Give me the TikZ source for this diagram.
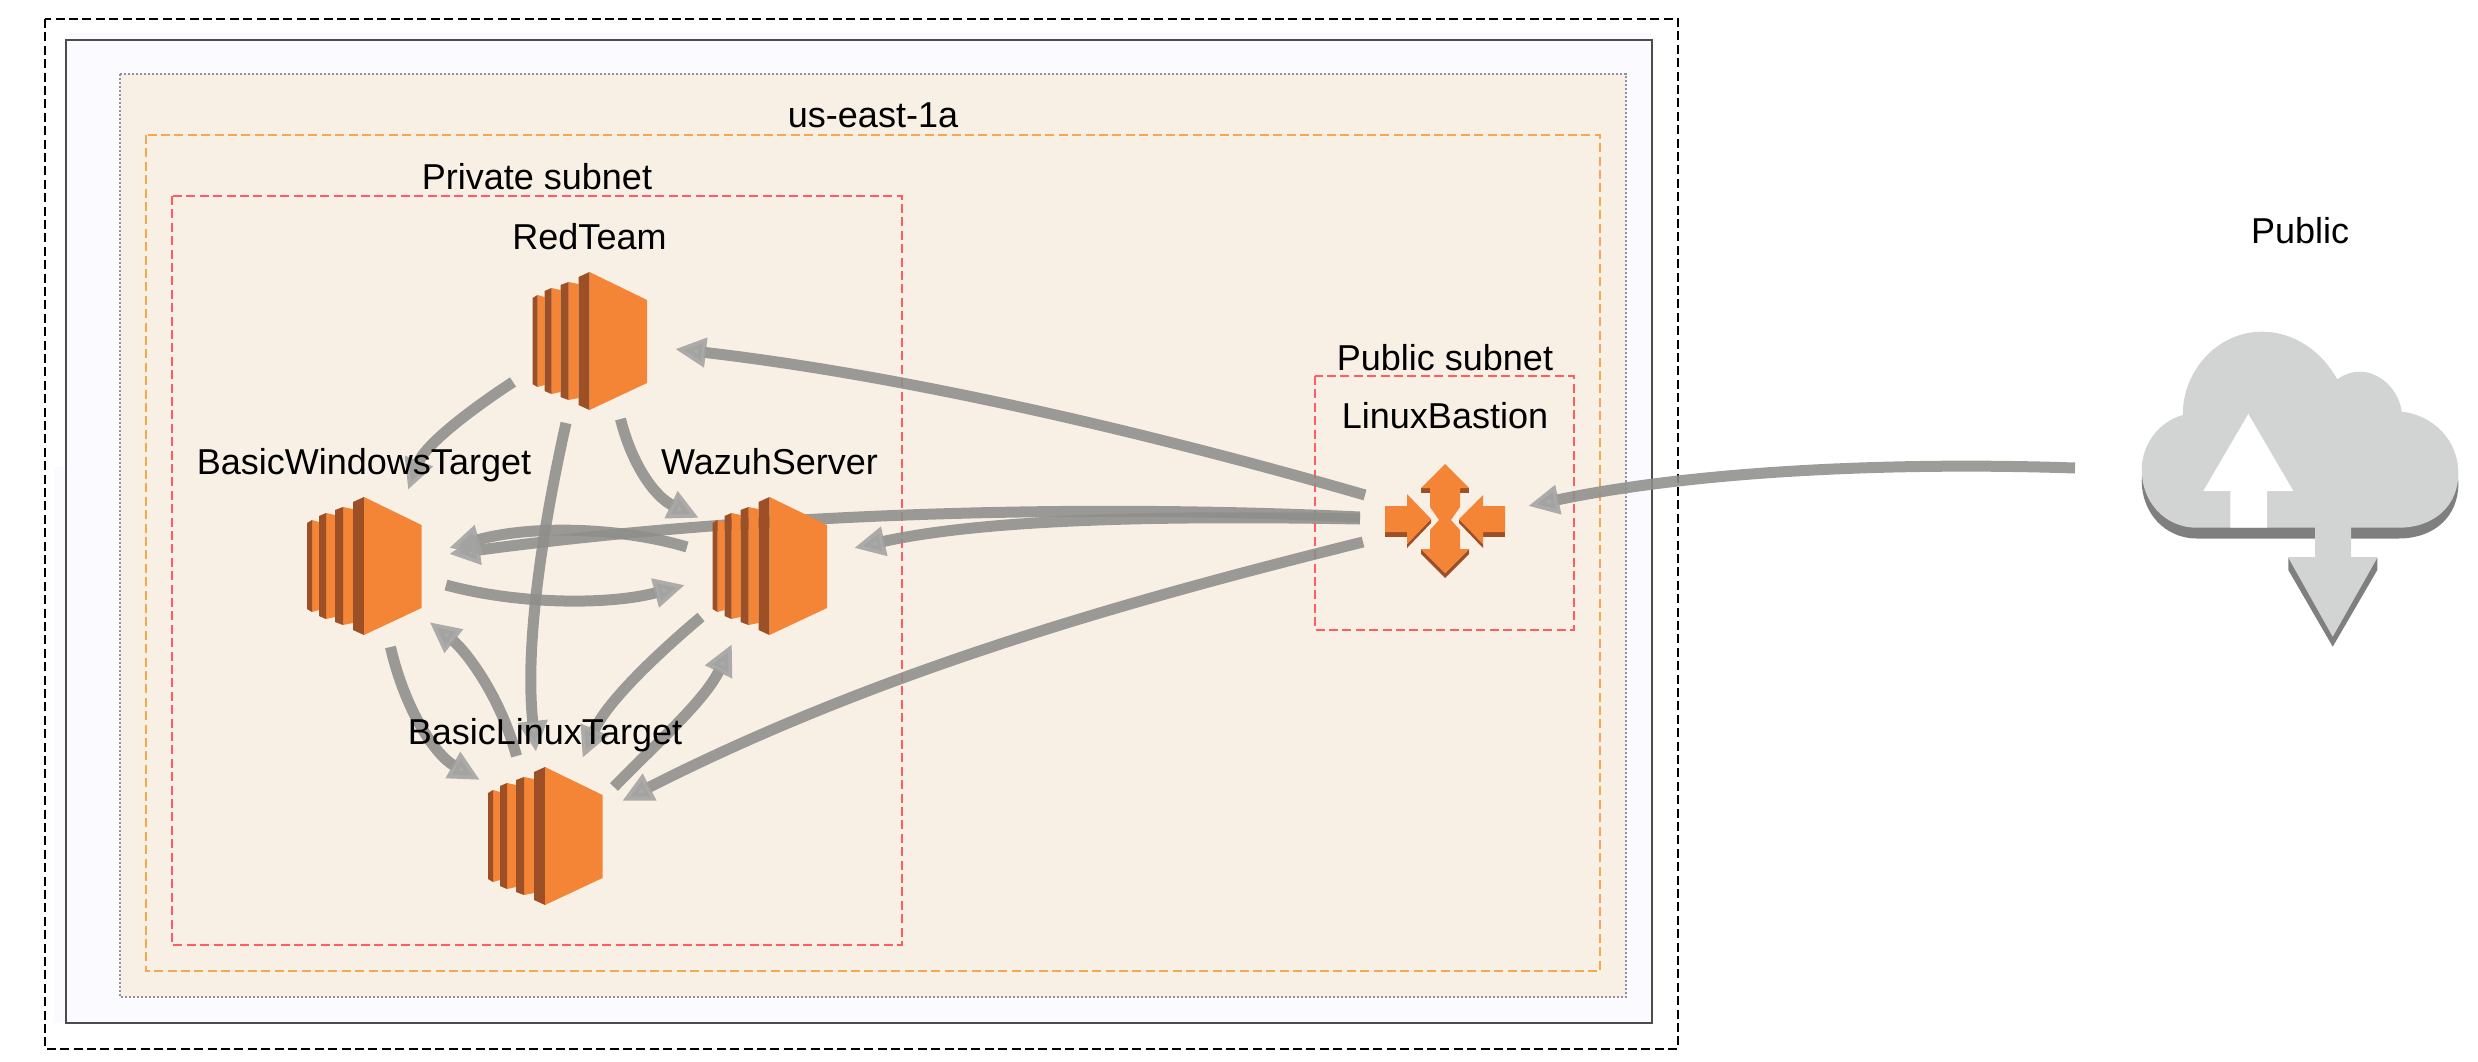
\documentclass[tikz,border=0pt]{standalone}
\usepackage{fontspec}
\setmainfont{Liberation Sans}
\usetikzlibrary{arrows.meta}
\definecolor{ec2orange}{HTML}{F58536}
\definecolor{ec2dark}{HTML}{9D5025}
\definecolor{linkgray}{HTML}{8E8E8B}
\definecolor{tipgray}{HTML}{A2A2A2}
\definecolor{cloudgray}{HTML}{D2D4D3}
\definecolor{cloudshade}{HTML}{7F7F7F}
\definecolor{panelblue}{HTML}{FAFAFF}
\definecolor{zonetan}{HTML}{F8F0E5}
\definecolor{zoneedge}{HTML}{8C92A5}
\definecolor{subnetorange}{HTML}{F5A94F}
\definecolor{subnetred}{HTML}{FF5C66}
\newcommand{\cloudoutline}{(-103.3,47.7) -- (98.3,47.7) .. controls (135,47.7) and (158.3,25) .. (158.3,-6.7) .. controls (158.3,-40) and (133,-65) .. (101.7,-68.3) .. controls (99,-90) and (80,-108.3) .. (60,-108.3) .. controls (51,-108.3) and (43,-105) .. (37.3,-100.7) .. controls (22,-128) and (-5,-148.3) .. (-38.3,-148.3) .. controls (-82,-148.3) and (-117.3,-110) .. (-117.3,-65) .. controls (-142,-58) and (-158.3,-35) .. (-158.3,-10) .. controls (-158.3,22) and (-135,47.7) .. (-103.3,47.7) -- cycle}
\begin{document}
\begin{tikzpicture}[x=0.5pt,y=-0.5pt,node distance=46pt]
        \tikzset{
            icon/.style = {rectangle, inner sep=0pt, minimum width=57pt, minimum height=69pt},
            lbl/.style = {anchor=base, font=\fontsize{18}{22}\selectfont},
            link/.style = {line width=5.5pt, draw=linkgray, opacity=0.88, -{Triangle[length=15.5pt,width=14pt,color=tipgray]}},
            outerbox/.style = {draw=black, line width=1pt, dash pattern=on 4.5pt off 2.2pt},
            panelbox/.style = {draw=black!70, line width=1.3pt},
            zonebox/.style = {draw=zoneedge, fill=zonetan, line width=0.8pt, dash pattern=on 0.8pt off 1.2pt},
            azbox/.style = {draw=subnetorange, line width=0.8pt, dash pattern=on 4.5pt off 2.2pt},
            subnetbox/.style = {draw=subnetred, line width=0.8pt, dash pattern=on 4.5pt off 2.2pt},
            ec2/.pic = {
                \foreach \xa/\xb/\xc/\ya in {-57/-52/-45/43,-45/-38/-29/50,-29/-21/-11/56} {
                    \fill [ec2orange] (\xb,-\ya-3) -- (\xc,-\ya-1) -- (\xc,\ya+1) -- (\xb,\ya+3) -- cycle;
                    \fill [ec2dark] (\xa,-\ya) -- (\xb,-\ya-3) -- (\xb,\ya+3) -- (\xa,\ya) -- cycle;
                }
                \fill [ec2dark] (-11,-64) -- (0,-69) -- (0,69) -- (-11,64) -- cycle;
                \fill [ec2orange] (0,-69) -- (57.5,-41) -- (57.5,42) -- (0,69) -- cycle;
            },
            gateway/.pic = {
                \fill [ec2dark] (-24,-32) -- (-24,-27) -- (-15,-27) -- (-15,-32) -- cycle;
                \fill [ec2dark] (24,-32) -- (24,-27) -- (15,-27) -- (15,-32) -- cycle;
                \fill [ec2dark] (-24,29) -- (0,53) -- (24,29) -- (24,34) -- (0,58) -- (-24,34) -- cycle;
                \fill [ec2dark] (-60,12) -- (-38,12) -- (-38,17) -- (-60,17) -- cycle;
                \fill [ec2dark] (-38,24) -- (-14,-1) -- (-14,3) -- (-38,28) -- cycle;
                \fill [ec2dark] (60,12) -- (38,12) -- (38,17) -- (60,17) -- cycle;
                \fill [ec2dark] (38,24) -- (14,-1) -- (14,3) -- (38,28) -- cycle;
                \fill [ec2orange] (0,-56) -- (24,-32) -- (15,-32) -- (15,-13) -- (6,0) -- (-6,0) -- (-15,-13) -- (-15,-32) -- (-24,-32) -- cycle;
                \fill [ec2orange] (0,53) -- (24,29) -- (15,29) -- (15,10) -- (6,0) -- (-6,0) -- (-15,10) -- (-15,29) -- (-24,29) -- cycle;
                \fill [ec2orange] (-14,-1) -- (-38,-26) -- (-38,-14) -- (-60,-14) -- (-60,12) -- (-38,12) -- (-38,24) -- cycle;
                \fill [ec2orange] (14,-1) -- (38,-25) -- (38,-14) -- (60,-14) -- (60,12) -- (38,12) -- (38,24) -- cycle;
            },
            igw/.pic = {
                \fill [cloudshade, yshift=-5.4pt] \cloudoutline;
                \fill [cloudshade] (-11.7,77.7) -- (-11.7,90) -- (32.7,166.7) -- (77.3,90) -- (77.3,77.7) -- cycle;
                \fill [cloudgray] \cloudoutline;
                \fill [white] (-51.7,-66) -- (-96.7,11) -- (-69.7,11) -- (-69.7,47.7) -- (-33,47.7) -- (-33,11) -- (-6.7,11) -- cycle;
                \fill [cloudgray] (15,47) -- (51,47) -- (51,77.7) -- (77.3,77.7) -- (32.7,156.7) -- (-11.7,77.7) -- (15,77.7) -- cycle;
            }
        }
        \useasboundingbox (0,0) rectangle (2478,1061);

        \draw [outerbox] (45,19) rectangle (1678,1049);
        \fill [panelblue] (66,33) -- (1651,33) -- (1651,1023) -- (54,1023) -- (54,467) -- (66,467) -- cycle;
        \draw [panelbox] (66,40) rectangle (1652,1023);
        \draw [zonebox] (120,74) rectangle (1626,997);
        \draw [azbox] (146,135) rectangle (1600,971);
        \draw [subnetbox] (172,196) rectangle (902,945);
        \draw [subnetbox] (1315,376) rectangle (1574,630);

        \node (redteam) [icon] at (589.5,341) {};
        \node (windows) [icon] at (364,566) {};
        \node (wazuh) [icon] at (769.5,566) {};
        \node (linux) [icon] at (545,836) {};
        \node (bastion) [icon] at (1445,520) {};
        \node (public) [icon, minimum width=160pt, minimum height=160pt] at (2300,480) {};

        \draw [link] ([shift={(-76.5,41)}]redteam.center) .. controls (470,410) and (425,445) .. ([shift={(44,-76)}]windows.center);
        \draw [link] ([shift={(-23.5,82)}]redteam.center) .. controls (540,540) and (525,650) .. ([shift={(-9,-84)}]linux.center);
        \draw [link] ([shift={(31,78)}]redteam.center) .. controls (632,465) and (655,497) .. ([shift={(-70.5,-48)}]wazuh.center);
        \draw [link] ([shift={(-80,-25)}]bastion.center) .. controls (1140,430) and (900,375) .. ([shift={(85.5,8)}]redteam.center);
        \draw [link] ([shift={(-85,-3)}]bastion.center) .. controls (1100,505) and (780,510) .. ([shift={(85,-12)}]windows.center);
        \draw [link] ([shift={(-82.5,-19)}]wazuh.center) .. controls (620,527) and (530,525) .. ([shift={(85,-18)}]windows.center);
        \draw [link] ([shift={(82,19)}]windows.center) .. controls (520,605) and (610,605) .. ([shift={(-84.5,19)}]wazuh.center);
        \draw [link] ([shift={(-85,-1)}]bastion.center) .. controls (1150,515) and (980,520) .. ([shift={(84.5,-18)}]wazuh.center);
        \draw [link] ([shift={(-82,22)}]bastion.center) .. controls (1130,600) and (880,670) .. ([shift={(77,-35)}]linux.center);
        \draw [link] ([shift={(-225,-12)}]public.center) .. controls (1900,462) and (1700,470) .. ([shift={(83,-14)}]bastion.center);
        \draw [link] ([shift={(-68.5,51)}]wazuh.center) .. controls (650,660) and (605,705) .. ([shift={(37.5,-78)}]linux.center);
        \draw [link] ([shift={(69,-49)}]linux.center) .. controls (660,740) and (705,700) .. ([shift={(-37.5,78)}]wazuh.center);
        \draw [link] ([shift={(26.5,81)}]windows.center) .. controls (405,710) and (435,755) .. ([shift={(-65,-56)}]linux.center);
        \draw [link] ([shift={(-28.5,-80)}]linux.center) .. controls (500,695) and (465,650) .. ([shift={(65.5,56)}]windows.center);

        \pic at (redteam) {ec2};
        \pic at (windows) {ec2};
        \pic at (wazuh) {ec2};
        \pic at (linux) {ec2};
        \pic at (bastion) {gateway};
        \pic at (public) {igw};

        \node (regionLabel) [lbl] at (873,127) {us-east-1a};
        \node (privateLabel) [lbl] at (537,189) {Private subnet};
        \node (redteamLabel) [above of=redteam, lbl] {RedTeam};
        \node (windowsLabel) [above of=windows, lbl] {BasicWindowsTarget};
        \node (wazuhLabel) [above of=wazuh, lbl] {WazuhServer};
        \node (linuxLabel) [above of=linux, lbl] {BasicLinuxTarget};
        \node (bastionLabel) [above of=bastion, lbl] {LinuxBastion};
        \node (subnetLabel) [above of=bastionLabel, yshift=-23.5pt, lbl] {Public subnet};
        \node (publicLabel) [above of=public, yshift=72.5pt, lbl] {Public};
    \end{tikzpicture}
\end{document}
